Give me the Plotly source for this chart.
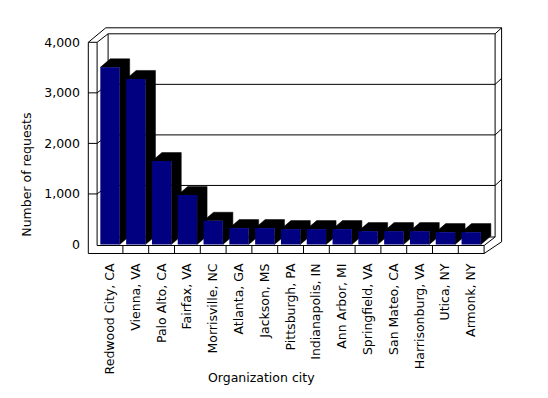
import plotly.graph_objects as go

# ---- data ----
cities = ["Redwood City, CA", "Vienna, VA", "Palo Alto, CA", "Fairfax, VA",
          "Morrisville, NC", "Atlanta, GA", "Jackson, MS", "Pittsburgh, PA",
          "Indianapolis, IN", "Ann Arbor, MI", "Springfield, VA", "San Mateo, CA",
          "Harrisonburg, VA", "Utica, NY", "Armonk, NY"]
requests = [3505, 3275, 1650, 980, 470, 325, 325, 305, 305, 305, 265, 265, 265, 245, 245]
y_ticks = [0, 1000, 2000, 3000, 4000]
y_tick_labels = ["0", "1,000", "2,000", "3,000", "4,000"]
x_title = "Organization city"
y_title = "Number of requests"

# ---- geometry (pixel layout -> data units) ----
OFF = 8                                     # page body margin
W, H = 548 - 2 * OFF, 398 - 2 * OFF
PL, PR, PT, PB = 86 - OFF, 505 - OFF, 25 - OFF, 256 - OFF   # plot area in px
CW = 25.8                                   # px per category
C0 = 110.0 - OFF                            # px of first category centre
S = 0.05055                                 # px per request
Z = 244.5 - OFF                             # px of value 0
x_range = [(PL - C0) / CW, (PR - C0) / CW]
y_range = [(Z - PB) / S, (Z - PT) / S]

def DX(p):
    return p / CW

def DY(p):
    return p / S

n = len(cities)
XL_IN = -0.5
XL_OUT = XL_IN - DX(8.8)
XR = n - 0.5
Y_TOP = y_ticks[-1]
FL = -DY(1.0)
SB = -DY(9.0)
Dx, Dy = DX(11), DY(8.5)     # floor depth
Tx, Ty = DX(6.5), DY(6)      # back wall thickness
Bx, By = DX(10), DY(8.5)     # bar depth
FOy = DY(11.7)
BW = 0.75

segs = []
def seg(x0, y0, x1, y1):
    segs.append(f"M{x0:.4f},{y0:.2f} L{x1:.4f},{y1:.2f}")

# back wall
seg(XL_IN + Dx, Y_TOP + Dy, XR + Dx, Y_TOP + Dy)
seg(XL_IN + Dx, FL + Dy, XL_IN + Dx, Y_TOP + Dy)
seg(XR + Dx, FL + Dy, XR + Dx, Y_TOP + Dy)
seg(XL_IN + Dx, FL + Dy, XR + Dx, FL + Dy)
seg(XL_OUT + Dx + Tx, Y_TOP + Dy + Ty, XR + Dx + Tx, Y_TOP + Dy + Ty)
seg(XR + Dx + Tx, Y_TOP + Dy + Ty, XR + Dx + Tx, SB + FOy)
seg(XR + Dx, Y_TOP + Dy, XR + Dx + Tx, Y_TOP + Dy + Ty)
for v in y_ticks[1:-1]:
    seg(XL_IN + Dx, v + Dy, XR + Dx, v + Dy)
    seg(XL_IN, v, XL_IN + Dx, v + Dy)
    seg(XL_OUT, v, XL_IN, v)
    seg(XR + Dx, v + Dy, XR + Dx + Tx, v + Dy + Ty)
# left wall
seg(XL_OUT, SB, XL_OUT, Y_TOP)
seg(XL_IN, FL, XL_IN, Y_TOP)
seg(XL_OUT, Y_TOP, XL_IN, Y_TOP)
seg(XL_OUT, Y_TOP, XL_OUT + Dx + Tx, Y_TOP + Dy + Ty)
seg(XL_IN, Y_TOP, XL_IN + Dx, Y_TOP + Dy)
# floor
seg(XL_IN, FL, XR, FL)
seg(XL_OUT, SB, XR, SB)
seg(XR, FL, XR, SB)
seg(XR, FL, XR + Dx, FL + Dy)
seg(XR, SB, XR + Dx + Tx, SB + FOy)
for k in range(n - 1):
    seg(k + 0.5, FL, k + 0.5, SB)

shapes = [dict(type="path", xref="x", yref="y", layer="below",
               path=" ".join(segs), line=dict(color="black", width=1))]

# bar depth (top + side) in black
for i, v in enumerate(requests):
    xl, xr = i - BW / 2, i + BW / 2
    p = (f"M{xl},{v} L{xl + Bx},{v + By} L{xr + Bx},{v + By} "
         f"L{xr + Bx},{By} L{xr},0 L{xr},{v} Z")
    shapes.append(dict(type="path", xref="x", yref="y", layer="below", path=p,
                       fillcolor="black", line=dict(color="black", width=0.5)))

fig = go.Figure()
fig.add_trace(go.Bar(x=list(range(n)), y=requests, width=BW,
                     marker=dict(color="#000080", line=dict(width=0)),
                     hoverinfo="skip"))

font = dict(family="DejaVu Sans", size=12.5, color="black")
fig.update_layout(
    width=W, height=H,
    margin=dict(l=PL, r=W - PR, t=PT, b=H - PB, pad=0),
    paper_bgcolor="white", plot_bgcolor="white",
    showlegend=False, font=font, shapes=shapes,
    xaxis=dict(range=x_range, tickmode="array", tickvals=list(range(n)),
               ticktext=cities, tickangle=-90, showgrid=False, zeroline=False,
               showline=False, ticks="", tickfont=font, fixedrange=True,
               ticklabelstandoff=4, automargin=False),
    yaxis=dict(range=y_range, tickmode="array", tickvals=y_ticks,
               ticktext=y_tick_labels, showgrid=False, zeroline=False,
               showline=False, ticks="", tickfont=font, fixedrange=True,
               ticklabelstandoff=5, automargin=False),
    annotations=[
        dict(text=y_title, xref="paper", yref="paper",
             x=(27 - OFF - PL) / (PR - PL), y=(PB - (174.7 - OFF)) / (PB - PT),
             textangle=-90, showarrow=False, xanchor="center", yanchor="middle",
             font=font),
        dict(text=x_title, xref="paper", yref="paper",
             x=(261.7 - OFF - PL) / (PR - PL), y=(PB - (377.3 - OFF)) / (PB - PT),
             showarrow=False, xanchor="center", yanchor="middle", font=font),
    ],
)
fig.write_html("out.html")
